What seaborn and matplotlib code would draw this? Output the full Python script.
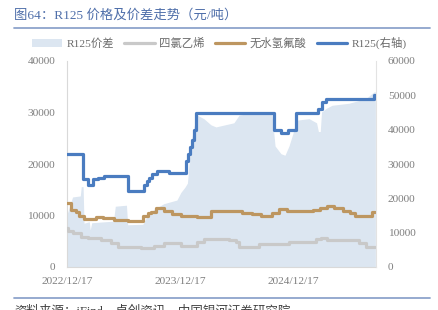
import pandas as pd
import matplotlib
matplotlib.use("Agg")
import matplotlib.pyplot as plt
import matplotlib.dates as mdates
from matplotlib.patches import Patch
from matplotlib.lines import Line2D
import seaborn as sns

# ---- data (元/吨) ----
# R125 price, right axis
r125_dates = ["2022-12-17", "2023-02-07", "2023-02-23", "2023-03-11", "2023-03-27",
              "2023-04-16", "2023-07-01", "2023-08-24", "2023-09-01", "2023-09-08",
              "2023-09-18", "2023-10-03", "2023-11-11", "2024-01-05", "2024-01-12",
              "2024-01-18", "2024-01-25", "2024-01-31", "2024-02-08", "2024-10-16",
              "2024-11-07", "2024-11-30", "2024-12-26", "2025-03-07", "2025-03-21",
              "2025-03-31", "2025-09-02", "2025-09-08"]
r125_values = [33000, 25500, 24000, 25500, 26000,
               26500, 22000, 24000, 25000, 26000,
               27000, 28000, 27500, 31000, 33000,
               35000, 37000, 40000, 45000, 40000,
               39000, 40000, 45000, 46000, 48000,
               49000, 50000, 50000]

# 无水氢氟酸 (anhydrous HF)
hf_dates = ["2022-12-17", "2022-12-30", "2023-01-15", "2023-01-26", "2023-02-11",
            "2023-03-21", "2023-04-11", "2023-05-19", "2023-07-01", "2023-08-19",
            "2023-09-04", "2023-09-13", "2023-09-29", "2023-10-26", "2023-11-22",
            "2023-12-19", "2024-02-10", "2024-03-25", "2024-07-05", "2024-08-06",
            "2024-09-02", "2024-10-10", "2024-11-01", "2024-11-28", "2025-02-20",
            "2025-03-14", "2025-04-05", "2025-04-26", "2025-05-28", "2025-06-19",
            "2025-07-05", "2025-08-28", "2025-09-08"]
hf_values = [12500, 11100, 10700, 9900, 9250,
             9650, 9450, 9150, 9000, 9900,
             10400, 10750, 11400, 10950, 10300,
             10000, 9650, 10900, 10550, 10300,
             9950, 10400, 11250, 10950, 11050,
             11500, 11900, 11400, 10900, 10400,
             9950, 10600, 10600]

# 四氯乙烯 (tetrachloroethylene)
pce_dates = ["2022-12-17", "2022-12-21", "2023-01-04", "2023-01-31", "2023-02-22",
             "2023-04-06", "2023-05-08", "2023-05-30", "2023-08-13", "2023-09-24",
             "2023-10-26", "2023-12-19", "2024-02-10", "2024-03-03", "2024-05-23",
             "2024-06-14", "2024-06-25", "2024-08-28", "2024-12-03", "2025-02-27",
             "2025-03-15", "2025-04-06", "2025-07-17", "2025-08-08", "2025-09-08"]
pce_values = [7500, 7000, 6550, 5900, 5550,
              5250, 4600, 3800, 3650, 4150,
              4600, 4150, 4900, 5350, 5200,
              4900, 3950, 4400, 4900, 5450,
              5700, 5250, 4600, 3950, 3950]

# R125价差 (spread)
spread_dates = ["2022-12-17", "2023-01-04", "2023-01-29", "2023-02-01", "2023-02-07",
                "2023-02-10", "2023-02-27", "2023-03-02", "2023-03-07", "2023-05-16",
                "2023-05-22", "2023-06-27", "2023-07-01", "2023-08-19", "2023-09-03",
                "2023-09-24", "2023-10-26", "2023-12-07", "2023-12-20", "2024-01-02",
                "2024-01-10", "2024-01-15", "2024-01-21", "2024-01-31", "2024-02-10",
                "2024-03-03", "2024-03-26", "2024-04-11", "2024-06-08", "2024-06-25",
                "2024-07-27", "2024-10-09", "2024-10-19", "2024-11-07", "2024-11-20",
                "2024-12-03", "2024-12-16", "2024-12-26", "2025-02-06", "2025-03-02",
                "2025-03-08", "2025-03-14", "2025-03-18", "2025-04-02", "2025-04-21",
                "2025-06-15", "2025-08-09", "2025-08-28", "2025-09-04", "2025-09-08"]
spread_values = [10200, 13600, 13800, 15600, 15600,
                 8500, 8800, 7200, 8600, 8900,
                 11800, 12000, 8200, 8300, 10000,
                 11200, 12300, 13000, 14500, 15500,
                 16300, 20000, 24000, 27200, 29500,
                 28800, 27600, 27200, 28000, 29500,
                 29800, 29700, 23500, 22000, 21700,
                 23500, 26000, 28500, 28800, 28000,
                 26300, 26300, 30100, 30800, 31400,
                 31800, 32700, 33700, 34000, 34000]

x_ticks = ["2022-12-17", "2023-12-17", "2024-12-17"]
x_tick_labels = ["2022/12/17", "2023/12/17", "2024/12/17"]
legend_labels = ["R125价差", "四氯乙烯", "无水氢氟酸", "R125(右轴)"]

# ---- style ----
C_AREA = "#dce6f1"
C_PCE = "#c9c9c9"
C_HF = "#bd9660"
C_R125 = "#4a7cc0"
C_TICK = "#7f7f7f"
C_TITLE = "#4f6faa"
C_RULE = "#8ea4cc"

sns.set_theme(style="white")
plt.rcParams["font.family"] = ["Liberation Serif", "Noto Sans CJK SC"]

W, H = 439, 310
fig = plt.figure(figsize=(W / 100, H / 100), dpi=100)
ax = fig.add_axes([67 / W, 1 - 267 / H, 309 / W, 206 / H])

ax.fill_between(pd.to_datetime(spread_dates), spread_values, 0,
                color=C_AREA, lw=0, zorder=1)
sns.lineplot(x=pd.to_datetime(pce_dates), y=pce_values, ax=ax, color=C_PCE,
             lw=2.3, drawstyle="steps-post", estimator=None, zorder=3)
sns.lineplot(x=pd.to_datetime(hf_dates), y=hf_values, ax=ax, color=C_HF,
             lw=2.3, drawstyle="steps-post", estimator=None, zorder=4)

ax2 = ax.twinx()
sns.lineplot(x=pd.to_datetime(r125_dates), y=r125_values, ax=ax2, color=C_R125,
             lw=2.3, drawstyle="steps-post", estimator=None, zorder=5)

xmin, xmax = pd.Timestamp("2022-12-17"), pd.Timestamp("2025-09-10")
for a in (ax, ax2):
    a.set_xlim(xmin, xmax)
    a.set_xlabel("")
    a.set_ylabel("")
    a.grid(False)

ax.set_ylim(0, 40000)
ax2.set_ylim(0, 60000)
ax.set_yticks(range(0, 40001, 10000))
ax2.set_yticks(range(0, 60001, 10000))
ax.set_xticks(pd.to_datetime(x_ticks))
ax.set_xticklabels(x_tick_labels)

ax.tick_params(axis="both", length=0, labelsize=8.2, colors=C_TICK)
ax.tick_params(axis="y", pad=8.5)
ax.tick_params(axis="x", pad=7)
ax2.tick_params(axis="y", length=0, labelsize=8.2, colors=C_TICK, pad=8.5)

for s in ("top", "right"):
    ax.spines[s].set_visible(False)
for s in ("left", "bottom"):
    ax.spines[s].set_color("#d9d9d9")
    ax.spines[s].set_linewidth(0.8)
for s in ("top", "left", "bottom"):
    ax2.spines[s].set_visible(False)
ax2.spines["right"].set_color("#e3e3e3")
ax2.spines["right"].set_linewidth(0.8)

# legend
handles = [Patch(facecolor=C_AREA, edgecolor="none"),
           Line2D([], [], color=C_PCE, lw=2.3),
           Line2D([], [], color=C_HF, lw=2.3),
           Line2D([], [], color=C_R125, lw=2.3)]
fig.legend(handles, legend_labels, loc="center", bbox_to_anchor=(219 / W, 1 - 43 / H),
           ncol=4, frameon=False, fontsize=8.2, handlelength=2.7, handleheight=0.8,
           columnspacing=0.9, handletextpad=0.35, labelcolor="#6b6b6b")

# title, rules and source
fig.text(14 / W, 1 - 15 / H, "图64：R125 价格及价差走势（元/吨）", color=C_TITLE,
         fontsize=9.6, va="center", ha="left")
fig.add_artist(Line2D([14 / W, 430 / W], [1 - 28 / H] * 2, transform=fig.transFigure,
                      color=C_RULE, lw=1.3))
fig.add_artist(Line2D([14 / W, 430 / W], [1 - 298 / H] * 2, transform=fig.transFigure,
                      color=C_RULE, lw=1.3))
fig.text(14 / W, 1 - 311 / H, "资料来源：iFind，卓创资讯，中国银河证券研究院",
         color="#404040", fontsize=9, va="center", ha="left")

fig.savefig("out.png", dpi=100, facecolor="white")
